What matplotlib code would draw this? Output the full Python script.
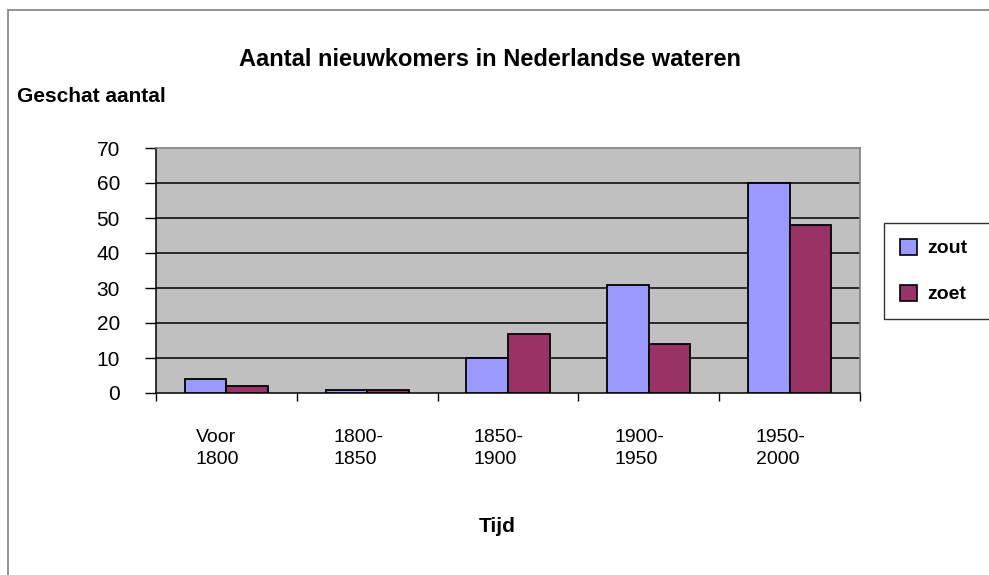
import matplotlib
matplotlib.use("Agg")
import matplotlib.pyplot as plt
import numpy as np
from matplotlib.patches import Rectangle, Patch

categories = ["Voor\n1800", "1800-\n1850", "1850-\n1900", "1900-\n1950", "1950-\n2000"]
zout = [4, 1, 10, 31, 60]
zoet = [2, 1, 17, 14, 48]
yticks = [0, 10, 20, 30, 40, 50, 60, 70]

W, H = 989, 575
fig = plt.figure(figsize=(W / 100, H / 100), dpi=100)
fig.patch.set_facecolor("white")

sans = ["Liberation Sans", "DejaVu Sans"]

# outer chart border
fig.patches.append(Rectangle((8 / W, -0.05), 1.1, 1 - 10 / H + 0.05, transform=fig.transFigure,
                             fill=False, edgecolor="#808080", linewidth=1.2, zorder=0))

ax = fig.add_axes([156 / W, 1 - 393 / H, (860 - 156) / W, (393 - 148) / H])
ax.set_facecolor("#C0C0C0")

x = np.arange(len(categories))
bw = 0.295
ax.bar(x - bw / 2, zout, bw, color="#9999FF", edgecolor="black", linewidth=1.3, zorder=3, label="zout")
ax.bar(x + bw / 2, zoet, bw, color="#993366", edgecolor="black", linewidth=1.3, zorder=3, label="zoet")

ax.set_xlim(-0.5, len(categories) - 0.5)
ax.set_ylim(0, 70)
ax.set_yticks(yticks)
ax.set_yticklabels([str(v) for v in yticks], fontfamily=sans, fontsize=15)
ax.tick_params(axis="y", length=8, width=1, pad=18, color="black")
for v in yticks[1:-1]:
    ax.axhline(v, color="black", linewidth=1.1, zorder=1)

ax.set_xticks(x - 0.065)
ax.set_xticklabels(categories, fontfamily=sans, fontsize=14, multialignment="left", linespacing=1.35)
ax.tick_params(axis="x", length=0, pad=26)
ax.set_xticks(np.arange(-0.5, len(categories)), minor=True)
ax.tick_params(axis="x", which="minor", length=6, width=1, color="black")

for s in ["top", "right"]:
    ax.spines[s].set_color("#808080")
    ax.spines[s].set_linewidth(1.2)
for s in ["left", "bottom"]:
    ax.spines[s].set_color("black")
    ax.spines[s].set_linewidth(1.1)

fig.text(490 / W, 1 - 60 / H, "Aantal nieuwkomers in Nederlandse wateren", ha="center", va="center",
         fontfamily=sans, fontsize=17, fontweight="bold")
fig.text(17 / W, 1 - 96 / H, "Geschat aantal", ha="left", va="center",
         fontfamily=sans, fontsize=15, fontweight="bold")
fig.text(497 / W, 1 - 527 / H, "Tijd", ha="center", va="center",
         fontfamily=sans, fontsize=15, fontweight="bold")

handles = [Patch(facecolor="#9999FF", edgecolor="black", linewidth=1.2, label="zout"),
           Patch(facecolor="#993366", edgecolor="black", linewidth=1.2, label="zoet")]
leg = fig.legend(handles=handles, loc="upper left", mode="expand",
                 bbox_to_anchor=(884 / W, 1 - 317 / H, 150 / W, (317 - 223) / H),
                 prop={"family": sans, "size": 14, "weight": "bold"},
                 handlelength=0.9, handleheight=0.9, handletextpad=0.5,
                 labelspacing=1.4, borderpad=0.8, borderaxespad=0,
                 frameon=True, fancybox=False)
leg.get_frame().set_edgecolor("black")
leg.get_frame().set_linewidth(1.0)

fig.savefig("out.png", dpi=100, facecolor="white")
